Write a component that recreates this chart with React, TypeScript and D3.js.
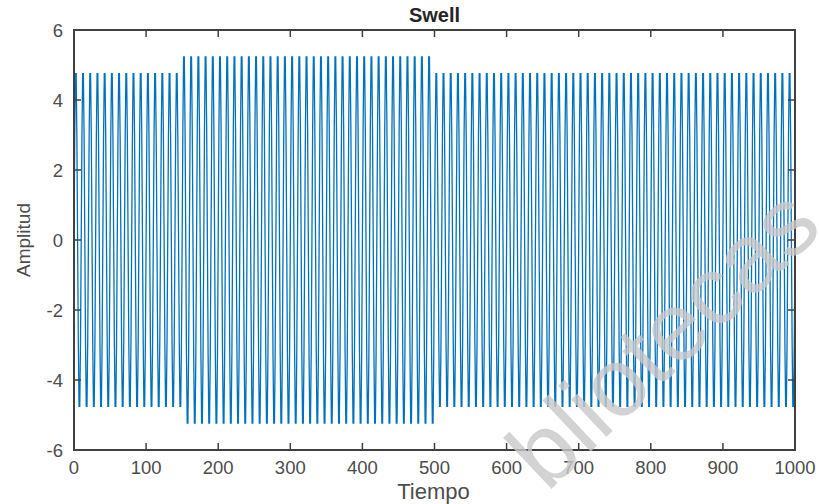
import React from "react";
import * as d3 from "d3";

const xTicks = [0, 100, 200, 300, 400, 500, 600, 700, 800, 900, 1000];
const yTicks = [-6, -4, -2, 0, 2, 4, 6];
// one cycle of the sampled waveform (10 samples per cycle), normalized
const cycleShape = [0, 0.588, 0.951, 0.951, 0.588, 0, -0.588, -0.951, -0.951, -0.588];
// segments: start sample, end sample, amplitude
const segStart = [0, 150, 500];
const segEnd = [150, 500, 1000];
const segAmplitude = [5, 5.5, 5];
const title = "Swell";
const xLabel = "Tiempo";
const yLabel = "Amplitud";
const watermark = "bibliotecas";

const W = 819;
const H = 504;
const left = 74, right = 795, top = 30, bottom = 450;

function buildSignal() {
  const pts: [number, number][] = [];
  for (let s = 0; s < segStart.length; s++) {
    const last = s === segStart.length - 1;
    for (let n = segStart[s]; last ? n <= segEnd[s] : n < segEnd[s]; n++) {
      pts.push([n, segAmplitude[s] * cycleShape[n % cycleShape.length]]);
    }
  }
  return pts;
}

export default function App() {
  const x = d3.scaleLinear().domain([0, 1000]).range([left, right]);
  const y = d3.scaleLinear().domain([-6, 6]).range([bottom, top]);
  const data = buildSignal();
  const line = d3.line<[number, number]>().x((d) => x(d[0])).y((d) => y(d[1]));
  const axisColor = "#404040";
  const textColor = "#4d4d4d";
  const font = "'Liberation Sans', Arial, Helvetica, sans-serif";
  return (
    <svg width={W} height={H} style={{ position: "absolute", left: 0, top: 0, background: "#fff" }} fontFamily={font}>
      <defs>
        <clipPath id="wmclip" clipPathUnits="userSpaceOnUse">
          <rect x={76} y={-300} width={2000} height={600} />
        </clipPath>
      </defs>
      <rect x={0} y={0} width={W} height={H} fill="#fff" />
      <path d={line(data) || ""} fill="none" stroke="#0072BD" strokeWidth={1.3} />
      <rect x={left} y={top} width={right - left} height={bottom - top} fill="none" stroke={axisColor} strokeWidth={2} />
      {xTicks.map((t) => (
        <g key={"x" + t}>
          <line x1={x(t)} x2={x(t)} y1={bottom} y2={bottom - 7} stroke={axisColor} strokeWidth={1.5} />
          <line x1={x(t)} x2={x(t)} y1={top} y2={top + 7} stroke={axisColor} strokeWidth={1.5} />
          <text x={x(t)} y={474} textAnchor="middle" fontSize={18.5} fill={textColor}>{t}</text>
        </g>
      ))}
      {yTicks.map((t) => (
        <g key={"y" + t}>
          <line x1={left} x2={left + 7} y1={y(t)} y2={y(t)} stroke={axisColor} strokeWidth={1.5} />
          <line x1={right} x2={right - 7} y1={y(t)} y2={y(t)} stroke={axisColor} strokeWidth={1.5} />
          <text x={63} y={y(t) + 6.5} textAnchor="end" fontSize={18.5} fill={textColor}>{t}</text>
        </g>
      ))}
      <text x={(left + right) / 2} y={22} textAnchor="middle" fontSize={20} fontWeight="bold" fill="#262626">{title}</text>
      <text x={(left + right) / 2 - 1} y={499} textAnchor="middle" fontSize={22} fill={textColor}>{xLabel}</text>
      <text transform={`translate(30,${(top + bottom) / 2}) rotate(-90)`} textAnchor="middle" fontSize={19} fill={textColor}>{yLabel}</text>
      <g transform="translate(492,545) rotate(-43.4)">
        <g clipPath="url(#wmclip)">
          <text x={0} y={0} fontSize={97} fill="#c8c8c8" opacity={0.8}>{watermark}</text>
        </g>
      </g>
    </svg>
  );
}
